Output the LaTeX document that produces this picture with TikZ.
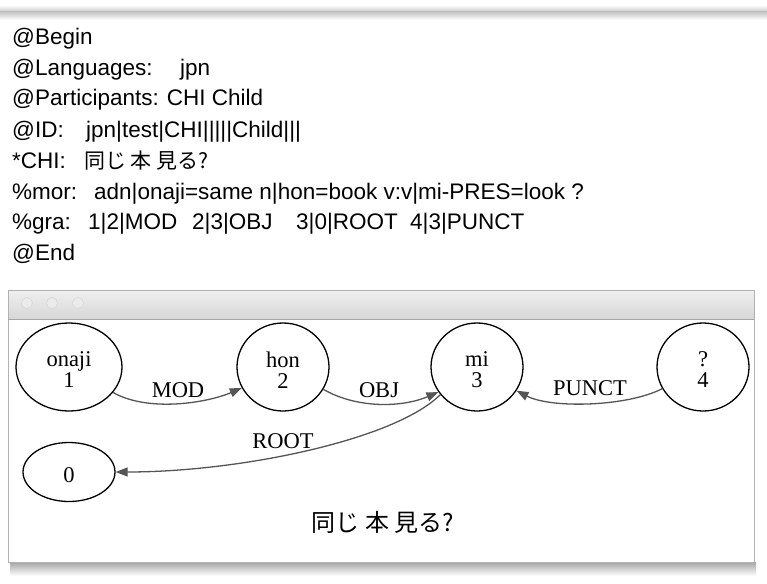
\documentclass[tikz,border=0pt]{standalone}
\usepackage{fontspec}
\setmainfont{Liberation Serif}
\newfontfamily\arialf{Liberation Sans}
\newfontfamily\cjk{Noto Sans CJK JP}
\usetikzlibrary{shapes.geometric,arrows.meta}
\definecolor{edgec}{HTML}{555555}
\newcommand{\twoline}[2]{\raisebox{-6pt}[\height][\depth]{\begin{tabular}{@{}c@{}}#1\\#2\end{tabular}}}
\tikzset{
  hdr/.style={anchor=base west,inner sep=0pt,font=\arialf\fontsize{22.5}{26}\selectfont},
  tok/.style={draw=black,line width=1.3pt,ellipse,inner sep=0pt,align=center,
              font=\fontsize{22.5}{21}\selectfont},
  lbl/.style={inner sep=0pt,font=\fontsize{22.5}{24}\selectfont},
  dep/.style={draw=edgec,line width=1.3pt,-{Triangle[length=12pt,width=9pt]}},
}
\begin{document}
\begin{tikzpicture}[x=1pt,y=-1pt]
\useasboundingbox (0,0) rectangle (767,583);
\fill[white] (0,0) rectangle (767,583);
% top band
\shade[top color=white,bottom color=black!22] (0,5) rectangle (767,12);
\shade[top color=black!22,bottom color=white] (0,12) rectangle (767,20);

% header text
\node[hdr] (l1) at (12,45) {@Begin};
\node[hdr] (l2) at (12,76) {@Languages:};
\node[hdr] (l2b) at (180,76) {jpn};
\node[hdr] (l3) at (12,106) {@Participants:\hspace{8pt}CHI Child};
\node[hdr] (l4) at (12,137) {@ID:};
\node[hdr] (l4b) at (86,137) {jpn|test|CHI|||||Child|||};
\node[hdr] (l5) at (12,168) {*CHI:};
\node[hdr,font=\cjk\fontsize{21}{26}\selectfont] (l5b) at (84,168) {同じ 本 見る?};
\node[hdr] (l6) at (12,199) {\%mor:};
\node[hdr] (l6b) at (94,199) {adn|onaji=same n|hon=book v:v|mi-PRES=look ?};
\node[hdr] (l7) at (12,229) {\%gra:};
\node[hdr] (l7b) at (88,229) {1|2|MOD};
\node[hdr] (l7c) at (192,229) {2|3|OBJ};
\node[hdr] (l7d) at (296,229) {3|0|ROOT};
\node[hdr] (l7e) at (410,229) {4|3|PUNCT};
\node[hdr] (l8) at (12,260) {@End};

% window shadow
\shade[top color=black!35,bottom color=white] (10,562) rectangle (756,576);
% window
\shade[top color=black!6,bottom color=black!16] (8,290) rectangle (754,319);
\fill[white] (8,319) rectangle (754,562);
\draw[black!30,line width=1pt] (8,290) rectangle (754,562);
\draw[black!35,line width=1pt] (8,319) -- (754,319);
\foreach \cx/\nm in {27/b1,52/b2,78/b3}
  \node[circle,draw=black!18,fill=black!8,minimum size=11pt,inner sep=0pt] (\nm) at (\cx,303) {};

% token nodes
\node[tok,minimum width=106pt,minimum height=88pt] (on) at (69,367) {\twoline{onaji}{1}};
\node[tok,minimum width=92pt,minimum height=88pt] (hon) at (283,367) {\twoline{hon}{2}};
\node[tok,minimum width=92pt,minimum height=88pt] (mi) at (477,367) {\twoline{mi}{3}};
\node[tok,minimum width=92pt,minimum height=88pt] (q) at (703,367) {\twoline{?}{4}};
\node[tok,minimum width=92pt,minimum height=59pt] (z) at (69,472) {\raisebox{-3pt}[\height][\depth]{0}};

% dependencies
\draw[dep] (on.-30) .. controls +(35,20) and +(-35,15) .. (hon.-153);
\draw[dep] (hon.-29) .. controls +(35,20) and +(-35,15) .. (mi.-147);
\draw[dep] (q.-152) .. controls +(-35,18) and +(35,18) .. (mi.-31);
\draw[dep] (mi.-143) .. controls +(-45,45) and +(125,0) .. (z.east);

% labels
\node[lbl] (lmod) at (178,390) {MOD};
\node[lbl] (lobj) at (379,390) {OBJ};
\node[lbl] (lpunct) at (590,388) {PUNCT};
\node[lbl] (lroot) at (283,441) {ROOT};
\node[inner sep=0pt,font=\cjk\fontsize{24}{26}\selectfont] (cap) at (383,522) {同じ 本 見る?};
\end{tikzpicture}
\end{document}
